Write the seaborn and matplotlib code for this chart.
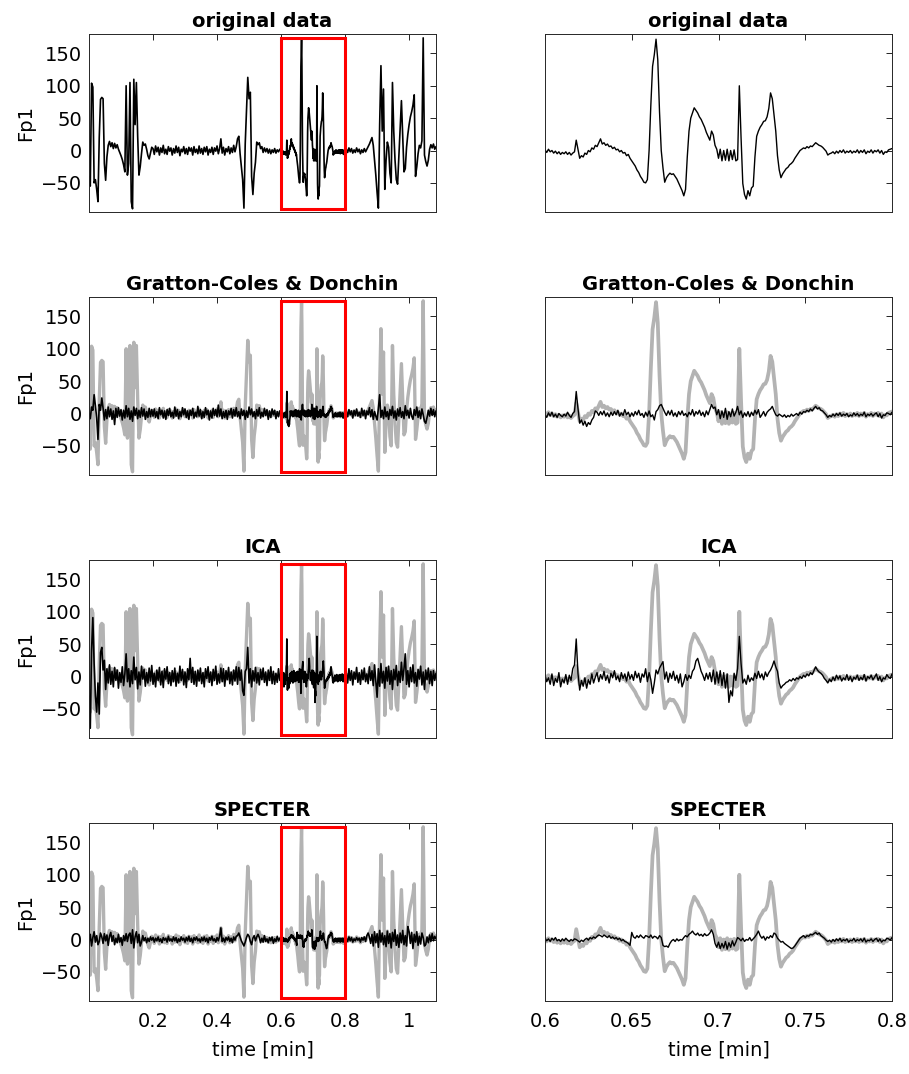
import numpy as np
import matplotlib
matplotlib.use("Agg")
import matplotlib.pyplot as plt
import seaborn as sns
from matplotlib.patches import Rectangle

# ---------------- data (Fp1 channel) ----------------
# sampling grid: 0.000-0.596 min (step 0.004), 0.600-0.800 min (step 0.001), 0.804-1.084 min (step 0.004)
orig_pre = [
    -40, -55, 104, 98, -50, -45, -60, -79, 20, 79,
    82, 80, -20, -46, -10, 8, 14, 6, 12, 3,
    11, 4, 9, 2, -3, -8, -14, -22, -33, 100,
    -38, -20, 105, -79, -90, 110, 40, 105, 23, -38,
    -25, -5, 13, 8, 10, 2, -8, -13, -4, 5,
    3, -6, 7, -2, 5, -7, 4, -3, 8, -5,
    2, -6, 6, -1, 4, -7, 3, -4, 7, -3,
    5, -8, 2, -2, 6, -5, 3, -6, 5, -1,
    4, -7, 6, -3, 2, -5, 7, -4, 3, -6,
    5, -2, 6, -7, 2, -3, 5, -6, 4, -1,
    7, -5, 3, 18, -4, 5, -7, 3, -2, 6,
    -5, 4, -3, 8, -2, 6, 18, 22, -5, -25,
    -45, -89, 10, 60, 113, 80, 90, -40, -68, -35,
    -18, 13, 9, 12, 3, 6, -3, 4, -2, 3,
    -4, 2, -5, 1, -3, 3, -4, 1, -2, 2]
orig_win = [
    1, -3, 2, -2, 0, -4, -1, -5, -2, -6,
    -3, -5, -2, -6, -3, -7, -4, -2, 16, 2,
    -12, -8, -10, -4, -6, 0, -2, 4, 2, 8,
    6, 12, 18, 10, 12, 8, 10, 6, 7, 3,
    5, 1, 2, -2, 0, -4, -3, -8, -6, -12,
    -16, -20, -24, -30, -34, -40, -44, -49, -50, -45,
    0, 70, 130, 148, 172, 140, 60, 0, -27, -49,
    -42, -38, -35, -37, -36, -40, -44, -50, -56, -62,
    -70, -60, -10, 30, 50, 58, 66, 62, 58, 52,
    48, 42, 36, 28, 22, 16, 30, 24, 8, 2,
    -12, 2, -16, 0, -15, 2, -16, 0, -14, 1,
    -16, -14, 100, 20, -51, -68, -75, -62, -70, -58,
    -55, -10, 22, 30, 36, 40, 45, 46, 52, 65,
    89, 80, 55, 30, -8, -30, -42, -36, -32, -28,
    -26, -22, -20, -17, -12, -8, -4, 0, 2, 4,
    3, 6, 4, 7, 6, 9, 12, 10, 8, 7,
    5, 2, -1, -7, -5, -4, -2, -5, -1, -4,
    0, -3, 1, -4, -1, -3, 0, -4, -1, -3,
    1, -4, 0, -3, 1, -5, -1, -3, 1, -4,
    0, -2, 1, -4, 0, -6, -2, -3, 1, 2, 3]
orig_post = [
    2, -3, 4, -2, 3, -4, 1, -3, 4, -2,
    2, -5, 1, -3, 3, -2, 2, 6, 10, 15,
    20, 8, -15, -38, -65, -89, 40, 131, 30, 95,
    -60, -15, 13, 5, -35, -50, 105, 30, -15, -45,
    -52, -10, 30, 77, 20, -33, -28, 5, 25, 40,
    52, 60, 70, 86, -40, -25, -5, 8, 4, 15,
    174, -7, -17, -24, -15, 2, 9, 4, 10, 2, 6]

gcd_pre = [
    0, -8, 10, 5, 29, 12, -7, -40, 14, 5,
    24, 8, -10, 6, -8, 10, -5, 7, -9, 4,
    -17, 8, -6, 9, -4, 6, -10, 5, -7, 12,
    -5, 8, -9, 4, -12, 10, -3, 8, -8, 5,
    -6, 9, -4, 7, -9, 3, -6, 8, -5, 6,
    -4, 7, -6, 3, -8, 9, -2, 5, -7, 4,
    -9, 6, -3, 8, -5, 2, -7, 10, -4, 6,
    -8, 3, -5, 9, -2, 7, -6, 4, -9, 5,
    -3, 8, -7, 2, -5, 11, -4, 6, -8, 3,
    -6, 9, -2, 5, -10, 4, -7, 8, -3, 6,
    -5, 13, -4, 7, -8, 3, -6, 5, -9, 4,
    -2, 8, -7, 6, -4, 9, -5, 3, -8, 7,
    -3, 5, -9, 4, -6, 10, -2, 7, -5, 3,
    -8, 6, -4, 9, -7, 2, -5, 8, -3, 6,
    -9, 4, -6, 7, -2, 5, -8, 3, -5, 4]
gcd_win = [
    -2, -6, 1, -4, 2, -5, -1, -6, 0, -3,
    -5, -1, -4, 2, -3, -6, 0, 3, 34, 8,
    -15, -10, -18, -12, -20, -14, -17, -10, -6, 4,
    2, -3, 3, -2, 4, -4, 1, -5, 2, -3,
    3, -2, 5, -4, 1, -3, 6, -2, 2, -5,
    1, -4, 3, -2, 5, -3, 0, -6, 2, -4,
    4, -5, -2, -10, 3, 6, 12, 14, 8, 2,
    -3, 4, -2, 5, -4, 1, -5, 3, -2, 4,
    -3, 0, -5, 2, -2, 6, -4, 3, -1, 5,
    -3, 2, -5, 4, -2, 6, 14, 8, 10, -2,
    6, -8, 4, -6, 8, -9, 3, -5, 7, -4,
    2, 11, -2, 4, -6, 1, -4, 3, -5, 2,
    -3, 5, -1, 6, -6, -2, 3, -4, 2, 5,
    7, 11, 4, -2, -4, -1, -3, -5, -2, -6,
    -3, -5, -1, -4, -2, 0, -3, 2, -1, 3,
    2, 5, 3, 7, 4, 8, 11, 7, 9, 5,
    4, 1, -2, -6, -3, -5, -1, -4, 0, -3,
    1, -4, -1, -3, 0, -5, -2, -4, 1, -3,
    0, -4, -1, -3, 2, -5, -1, -3, 0, -4,
    -1, 1, -5, 0, -7, -2, -3, 1, 0, -2, 2]
gcd_post = [
    3, -5, 6, -2, 4, -7, 5, -3, 7, -4,
    2, -6, 8, -3, 5, -8, 4, -2, 9, -5,
    6, -9, 3, -4, -10, 8, 29, -6, 5, -8,
    10, -5, 3, -9, 6, -3, 11, -7, 4, -10,
    7, -4, 9, -6, 3, -8, 12, -3, 5, -7,
    8, -4, -9, 6, -3, 10, -6, 4, -8, 7,
    -2, -12, -15, -6, 5, -4, 8, -3, 6, -5, 4]

ica_pre = [
    -30, -80, 40, 91, 20, -30, -55, -10, -58, 37,
    45, 10, 25, -20, 12, -10,
    18, -12, 8, -16, 14, -6, 10, -18, 6, -9,
    15, -14, 4, 35, -8, 12, -16, 9, -11, 30,
    -5, 14, -19, 7, -13, 16, -4, 11, -15, 6,
    -10, 13, -7, 17, -12, 5, -16, 10, -6, 14,
    -13, 8, -17, 12, -4, 15, -11, 6, -14, 9,
    -8, 13, -15, 5, -10, 16, -6, 11, -13, 7,
    -17, 12, -5, 28, -9, 14, -12, 8, -15, 10,
    -7, 13, -11, 6, -16, 12, -3, 15, -9, 7,
    -14, 11, -6, 16, -12, 4, -10, 13, -8, 12,
    -15, 9, -5, 14, -11, 7, -13, 10, -7, 15,
    -12, 14, -6, 10, -22, -29, 8, 12, 45, -10,
    12, -16, 9, -7, 14, -10, 6, -13, 11, -5,
    13, -9, 7, -14, 10, -6, 15, -11, 8, -12,
    5, -9, 12, -6]
ica_win = [
    2, -8, -2, -12, 4, -14, -3, -9, 6, -16,
    -4, -10, 3, -12, 2, -6, 12, 18, 58, 5,
    -21, -6, -15, -2, -18, -5, -12, 4, -10, -1,
    6, -8, 3, -4, 8, -6, 2, -10, 5, -2,
    9, -5, 1, -8, 6, -3, 4, -7, 7, -4,
    3, -6, 8, -2, 5, -9, 4, -1, 12, -8,
    6, -5, -26, -10, 10, 4, 13, 18, 23, -4,
    7, -9, 5, -3, 8, -6, 2, -10, 4, -16,
    -8, 3, -6, 2, -3, 8, 12, 24, 28, 18,
    8, 2, -6, 5, -4, 6, -8, 10, -12, 7,
    -10, 9, -14, 6, -18, 4, -40, -22, -30, 5,
    -6, 12, 62, 20, -10, -4, -12, 2, -8, -2,
    -6, 5, -3, 8, -2, 4, -5, 7, 0, 6,
    10, 16, 24, 15, 8, -10, -18, -14, -12, -9,
    -8, -5, -7, -3, -6, -2, -4, 0, -3, 2,
    -1, 4, 1, 6, 3, 9, 15, 10, 7, 5,
    2, -3, -6, -10, -4, -8, -1, -6, 2, -4,
    1, -7, -2, -5, 3, -6, 0, -8, -1, -4,
    2, -6, -1, -5, 3, -7, 0, -3, 2, -5,
    -1, 4, -6, 0, -8, -2, -4, 3, -1, -3, 4]
ica_post = [
    5, -10, 12, -6, 9, -13, 7, -4, 14, -9,
    6, -12, 10, -5, 13, -8, 4, -11, 15, -6,
    9, -14, 18, -8, -32, 12, -15, 20, -10, 8,
    -18, 14, -7, 16, -12, 9, -20, 11, -5, 17,
    -14, 8, -9, 22, -6, 12, 35, -12, 9, -16,
    14, -8, 18, -10, 6, -15, 11, -4, 16, -13,
    7, -20, 10, -5, 13, -11, 8, -14, 9, -6,
    5]

spec_pre = [
    -5, 8, -10, 3, 12, -4, 6, -8, -3, 10,
    4, -6, 9, -2, 7, -9, 5, 11, -3, 6,
    -8, 2, -5, 8, -4, 3, -9, 6, -2, 9,
    -3, 7, 10, -6, 15, -13, 4, 12, -5, 8,
    -10, -4, 6, -2, 3, -5, 2, -3, 4, -1,
    3, -4, 2, -2, 4, -3, 1, -5, 3, -1,
    2, -4, 5, -2, 1, -3, 4, -2, 3, -5,
    1, -3, 4, -1, 2, -4, 3, -2, 5, -3,
    2, -5, 3, -1, 4, -2, 1, -4, 3, -2,
    4, -3, 2, -5, 3, -1, 5, -2, 1, -4,
    3, -2, 5, 18, -3, 2, -4, 3, -1, 4,
    -3, 2, -5, 4, -1, 5, 6, 10, 4, -2,
    -6, -10, -4, 3, 8, 5, -3, -8, 2, 6,
    -2, 4, 8, 3, -5, 2, -4, 6, -3, 1,
    -5, 3, -2, 4, -6, 1, -3, 5, -2, 2]
spec_win = [
    2, -2, 1, -3, 2, -1, 3, -2, 0, -3,
    1, -2, 2, -1, -3, 0, -2, 1, 0, -2,
    -4, -1, -3, 0, 2, -1, 3, 1, 4, 2,
    5, 7, 6, 4, 7, 5, 3, 6, 2, 4,
    1, 3, 0, 2, -2, 0, -3, -4, -6, -9,
    11, 4, 2, 6, 3, 7, 4, 2, 6, 5,
    3, 7, 2, 5, 4, 1, 6, 3, -9, -11,
    -10, -12, -6, -2, 0, -3, 1, -2, 0, -1,
    3, 6, 4, 8, 10, 13, 9, 7, 10, 6,
    8, 5, 9, 6, 7, 10, 15, 8, -6, -12,
    -4, -14, -6, -13, -3, -15, -5, -12, -2, -10,
    -4, 3, 1, -2, 2, -3, 0, -1, 3, -2,
    1, 4, 8, 13, 6, 2, 5, -1, 4, 2,
    6, 3, 10, 8, 2, -1, -4, -3, -6, -8,
    -10, -12, -14, -13, -10, -6, -2, 2, 4, 6,
    3, 6, 5, 8, 7, 9, 11, 8, 10, 6,
    4, 2, -1, -3, -1, -4, 0, -3, 1, -2,
    2, -3, 0, -2, 1, -4, -1, -2, 2, -3,
    0, -2, 1, -3, 2, -4, -1, -2, 1, -3,
    0, 2, -3, 1, -4, -1, -2, 2, 1, -1, 3]
spec_post = [
    2, -3, 4, -2, 3, -4, 1, -2, 3, -1,
    2, -4, 3, -1, 4, -3, 6, 10, 4, -6,
    8, -10, 12, -5, 9, -12, 14, -4, 10, -8,
    6, -11, 13, -6, 9, -13, 11, -3, 15, -9,
    7, -12, 10, -5, 14, -8, 6, -10, 20, 12,
    -6, 11, -14, 8, -4, 12, -9, 5, -7, 10,
    3, -10, -8, 4, -5, 7, -3, 9, -2, 5,
    1]

titles = ["original data", "Gratton-Coles & Donchin", "ICA", "SPECTER"]
y_ticks = [-50, 0, 50, 100, 150]
left_xticks = [0.2, 0.4, 0.6, 0.8, 1.0]
left_xlabels = ["0.2", "0.4", "0.6", "0.8", "1"]
right_xticks = [0.6, 0.65, 0.7, 0.75, 0.8]
right_xlabels = ["0.6", "0.65", "0.7", "0.75", "0.8"]
win_start, win_end = 0.6, 0.8
t_end = 1.084

# ---------------- assemble ----------------
t = np.concatenate([np.arange(len(orig_pre)) * 0.004,
                    win_start + np.arange(len(orig_win)) * 0.001,
                    0.804 + np.arange(len(orig_post)) * 0.004])
orig = np.concatenate([orig_pre, orig_win, orig_post]).astype(float)
cleaned = [None,
           np.concatenate([gcd_pre, gcd_win, gcd_post]).astype(float),
           np.concatenate([ica_pre, ica_win, ica_post]).astype(float),
           np.concatenate([spec_pre, spec_win, spec_post]).astype(float)]

sns.set_theme(style="white")
plt.rcParams['font.family'] = ['DejaVu Sans']
plt.rcParams['text.color'] = 'black'
plt.rcParams['axes.labelcolor'] = 'black'
plt.rcParams['axes.titlecolor'] = 'black'

FS = 14
fig = plt.figure(figsize=(9.09, 10.74), dpi=100)
W = 347 / 909
H = 178 / 1074
tops = [34, 297, 560, 823]
GRAY = "#b3b3b3"

for r in range(4):
    bottom = (1074 - tops[r] - 178) / 1074
    axL = fig.add_axes([89 / 909, bottom, W, H])
    axR = fig.add_axes([545 / 909, bottom, W, H])
    for side, ax in (("L", axL), ("R", axR)):
        lw_black = 1.2 if side == "L" else 1.0
        if r == 0:
            sns.lineplot(x=t, y=orig, ax=ax, color="black", linewidth=lw_black,
                         estimator=None, sort=False)
        else:
            sns.lineplot(x=t, y=orig, ax=ax, color=GRAY,
                         linewidth=2.4 if side == "L" else 2.7,
                         estimator=None, sort=False)
            sns.lineplot(x=t, y=cleaned[r], ax=ax, color="black", linewidth=lw_black,
                         estimator=None, sort=False)
        ax.set_ylim(-95, 180)
        ax.set_yticks(y_ticks)
        ax.tick_params(direction="in", top=True, right=True, length=4,
                       width=0.6, labelsize=FS, colors="black", pad=5)
        ax.tick_params(axis="x", pad=8)
        for sp in ax.spines.values():
            sp.set_color("#262626")
            sp.set_linewidth(0.7)
        ax.set_title(titles[r], fontsize=FS, fontweight="bold", pad=5, color="black")
        ax.set_xlabel("")
        ax.set_ylabel("")
    # left panel
    axL.set_xlim(0, t_end)
    axL.set_xticks(left_xticks)
    axL.set_ylabel("Fp1", fontsize=FS, labelpad=4)
    ymin, ymax = orig.min(), orig.max()
    axL.add_patch(Rectangle((win_start, ymin), win_end - win_start, ymax - ymin,
                            fill=False, edgecolor="red", linewidth=2.2, zorder=5))
    # right panel
    axR.set_xlim(win_start, win_end)
    axR.set_xticks(right_xticks)
    axR.tick_params(labelleft=False)
    if r == 3:
        axL.set_xticklabels(left_xlabels)
        axR.set_xticklabels(right_xlabels)
        axL.set_xlabel("time [min]", fontsize=FS, labelpad=7)
        axR.set_xlabel("time [min]", fontsize=FS, labelpad=7)
    else:
        axL.tick_params(labelbottom=False)
        axR.tick_params(labelbottom=False)

fig.savefig("out.png", dpi=100)
